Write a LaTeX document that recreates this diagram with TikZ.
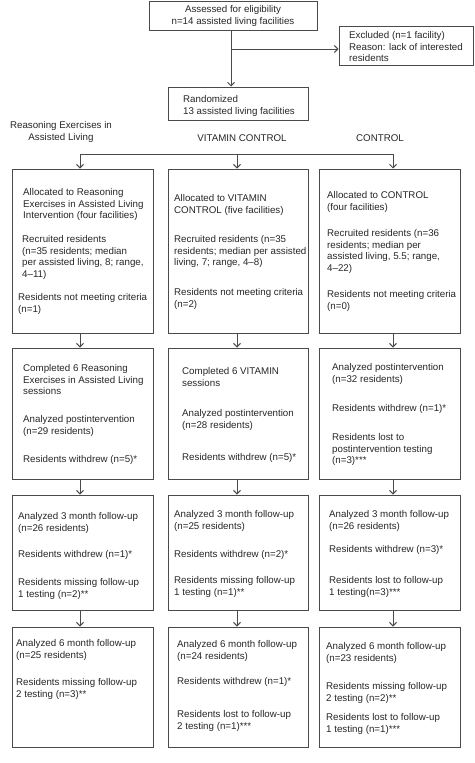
\documentclass[tikz,border=0pt]{standalone}
\usepackage{fontspec}
\setmainfont{Liberation Sans}
\usetikzlibrary{arrows.meta}
\definecolor{linec}{HTML}{4A4A4A}
\definecolor{textc}{HTML}{262626}
\newcommand\fsz{\fontsize{9.75}{11.5}\selectfont}
\tikzset{
  box/.style={draw=linec, line width=1pt, inner sep=0pt, rectangle},
  txt/.style={anchor=north west, inner sep=0pt, align=left, font=\fsz, text=textc, yshift=4.6pt},
  ctxt/.style={inner sep=0pt, align=center, font=\fsz, text=textc},
  arr/.style={draw=linec, line width=1pt, -{Straight Barb[length=3.5pt,width=7pt]}},
  ln/.style={draw=linec, line width=1pt}
}
\begin{document}
\begin{tikzpicture}[x=1pt,y=-1pt]
\useasboundingbox (0,0) rectangle (474,763);
% top boxes
\node[box, minimum width=168pt, minimum height=29pt] (assess) at (233,15.5) {};
\node[box, minimum width=134pt, minimum height=39pt] (excl) at (406,45.5) {};
\node[box, minimum width=140pt, minimum height=33pt] (rand) at (238,103.5) {};
\node[ctxt] (assesst) at (233,16) {Assessed for eligibility\\n=14 assisted living facilities};
\node[txt] (exclt) at (349,35) {\strut Excluded (n=1 facility)\\Reason: lack of interested\\residents};
\node[txt] (randt) at (183,99) {\strut Randomized\\13 assisted living facilities};
% column headings
\node[ctxt] (hL) at (61,132) {Reasoning Exercises in\\Assisted Living};
\node[ctxt] (hM) at (242,138) {VITAMIN CONTROL};
\node[ctxt] (hR) at (380,138) {CONTROL};
% column coordinates
\coordinate (cL) at (80,0);
\coordinate (cM) at (237,0);
\coordinate (cR) at (393,0);
\coordinate (hub) at (237,154);
\coordinate (split) at (231,49);
% row boxes
\foreach \c/\cx/\w in {L/82.5/141, M/238/140, R/389.5/141}{
  \node[box, minimum width=\w pt, minimum height=164pt] (\c1) at (\cx,251) {};
  \node[box, minimum width=\w pt, minimum height=131pt] (\c2) at (\cx,413.5) {};
  \node[box, minimum width=\w pt, minimum height=115pt] (\c3) at (\cx,552.5) {};
  \node[box, minimum width=\w pt, minimum height=120pt] (\c4) at (\cx,687) {};
}
% connectors
\draw[arr] (assess.south -| split) -- (rand.north -| split);
\draw[arr] (split) -- (split -| excl.west);
\draw[ln] (hub -| cL) -- (hub -| cR);
\foreach \c in {L,M,R}{
  \draw[arr] (hub -| c\c) -- (\c1.north -| c\c);
  \draw[arr] (\c1.south -| c\c) -- (\c2.north -| c\c);
  \draw[arr] (\c2.south -| c\c) -- (\c3.north -| c\c);
  \draw[arr] (\c3.south -| c\c) -- (\c4.north -| c\c);
}
% row 1 texts
\node[txt] (L1a) at (23,192) {\strut Allocated to Reasoning\\Exercises in Assisted Living\\Intervention (four facilities)};
\node[txt] (L1b) at (22,239) {\strut Recruited residents\\(n=35 residents; median\\per assisted living, 8; range,\\4–11)};
\node[txt] (L1c) at (18,297) {\strut Residents not meeting criteria\\(n=1)};
\node[txt] (M1a) at (174,198) {\strut Allocated to VITAMIN\\CONTROL (five facilities)};
\node[txt] (M1b) at (174,239) {\strut Recruited residents (n=35\\residents; median per assisted\\living, 7; range, 4–8)};
\node[txt] (M1c) at (174,292) {\strut Residents not meeting criteria\\(n=2)};
\node[txt] (R1a) at (327,195) {\strut Allocated to CONTROL\\(four facilities)};
\node[txt] (R1b) at (327,233) {\strut Recruited residents (n=36\\residents; median per\\assisted living, 5.5; range,\\4–22)};
\node[txt] (R1c) at (327,294) {\strut Residents not meeting criteria\\(n=0)};
% row 2 texts
\node[txt] (L2a) at (23,368) {\strut Completed 6 Reasoning\\Exercises in Assisted Living\\sessions};
\node[txt] (L2b) at (23,419) {\strut Analyzed postintervention\\(n=29 residents)};
\node[txt] (L2c) at (23,459) {\strut Residents withdrew (n=5)*};
\node[txt] (M2a) at (182,371) {\strut Completed 6 VITAMIN\\sessions};
\node[txt] (M2b) at (182,413) {\strut Analyzed postintervention\\(n=28 residents)};
\node[txt] (M2c) at (182,457) {\strut Residents withdrew (n=5)*};
\node[txt] (R2a) at (332,367) {\strut Analyzed postintervention\\(n=32 residents)};
\node[txt] (R2b) at (332,408) {\strut Residents withdrew (n=1)*};
\node[txt] (R2c) at (332,437) {\strut Residents lost to\\postintervention testing\\(n=3)***};
% row 3 texts
\node[txt] (L3a) at (18,516) {\strut Analyzed 3 month follow-up\\(n=26 residents)};
\node[txt] (L3b) at (18,554) {\strut Residents withdrew (n=1)*};
\node[txt] (L3c) at (18,582) {\strut Residents missing follow-up\\1 testing (n=2)**};
\node[txt] (M3a) at (174,514) {\strut Analyzed 3 month follow-up\\(n=25 residents)};
\node[txt] (M3b) at (174,554) {\strut Residents withdrew (n=2)*};
\node[txt] (M3c) at (174,580) {\strut Residents missing follow-up\\1 testing (n=1)**};
\node[txt] (R3a) at (329,514) {\strut Analyzed 3 month follow-up\\(n=26 residents)};
\node[txt] (R3b) at (329,549) {\strut Residents withdrew (n=3)*};
\node[txt] (R3c) at (329,580) {\strut Residents lost to follow-up\\1 testing(n=3)***};
% row 4 texts
\node[txt] (L4a) at (16,643) {\strut Analyzed 6 month follow-up\\(n=25 residents)};
\node[txt] (L4b) at (16,682) {\strut Residents missing follow-up\\2 testing (n=3)**};
\node[txt] (M4a) at (177,644) {\strut Analyzed 6 month follow-up\\(n=24 residents)};
\node[txt] (M4b) at (177,681) {\strut Residents withdrew (n=1)*};
\node[txt] (M4c) at (177,714) {\strut Residents lost to follow-up\\2 testing (n=1)***};
\node[txt] (R4a) at (326,646) {\strut Analyzed 6 month follow-up\\(n=23 residents)};
\node[txt] (R4b) at (326,686) {\strut Residents missing follow-up\\2 testing (n=2)**};
\node[txt] (R4c) at (326,717) {\strut Residents lost to follow-up\\1 testing (n=1)***};
\end{tikzpicture}
\end{document}
